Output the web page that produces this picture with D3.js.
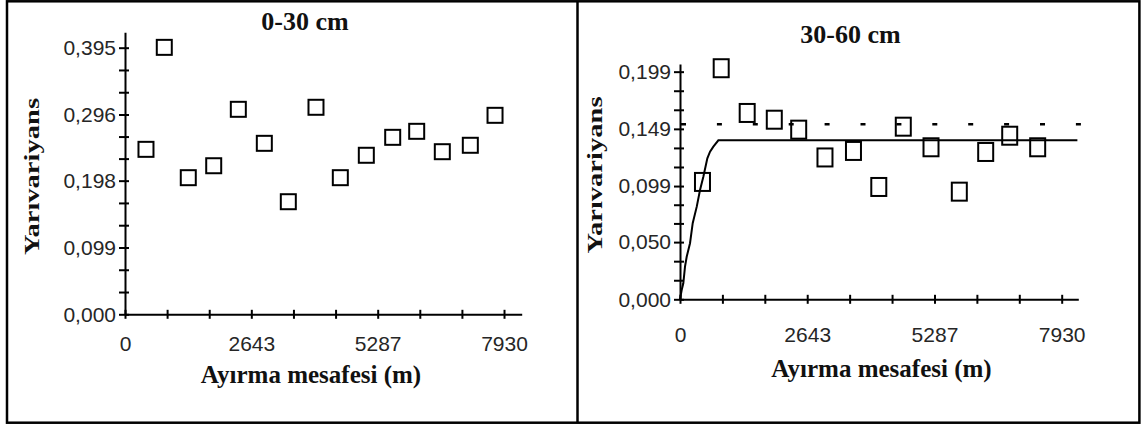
<!DOCTYPE html>
<html>
<head>
<meta charset="utf-8">
<script src="https://cdn.jsdelivr.net/npm/d3@7/dist/d3.min.js"></script>
<style>
body { margin: 0; background: #fff; }
svg { display: block; }
</style>
</head>
<body>
<svg id="chart" width="1146" height="425"></svg>
<script>
// 0-30 cm: experimental semivariogram points
let leftLag = [439, 822, 1324, 1856, 2371, 2915, 3417, 3996, 4505, 5049, 5601, 6103, 6639, 7225, 7742];
let leftGamma = [0.2444, 0.3955, 0.2024, 0.2201, 0.3037, 0.2533, 0.1668, 0.3067, 0.2024, 0.2356, 0.2622, 0.2711, 0.2409, 0.2504, 0.2948];
let leftYTicks = [0, 0.099, 0.198, 0.296, 0.395];

// 30-60 cm: experimental points, fitted model, sample variance
let rightLag = [467, 856, 1396, 1959, 2466, 3012, 3604, 4130, 4639, 5215, 5803, 6351, 6850, 7431];
let rightGamma = [0.1026, 0.2020, 0.1629, 0.1570, 0.1483, 0.1240, 0.1297, 0.0982, 0.1509, 0.1329, 0.0941, 0.1288, 0.1430, 0.1329];
let modelLag = [0, 35, 69, 104, 139, 208, 264, 348, 416, 485, 568, 624, 693, 797, 8256];
let modelGamma = [0, 0.0081, 0.0140, 0.0285, 0.0372, 0.0490, 0.0665, 0.0810, 0.0956, 0.1072, 0.1233, 0.1291, 0.1334, 0.1390, 0.1390];
let rightSill = 0.153;
let rightYTicks = [0, 0.050, 0.099, 0.149, 0.199];

let xTicks = [0, 2643, 5287, 7930];

const svg = d3.select('#chart');
const serif = '"Liberation Serif", "Times New Roman", serif';
const sans = '"Liberation Sans", Arial, sans-serif';

// outer frame and divider
svg.append('rect')
    .attr('x', 7).attr('y', 1.3)
    .attr('width', 1132.4).attr('height', 421.4)
    .attr('fill', 'none').attr('stroke', '#000').attr('stroke-width', 2.5);
svg.append('line')
    .attr('x1', 577.5).attr('x2', 577.5)
    .attr('y1', 1).attr('y2', 423)
    .attr('stroke', '#000').attr('stroke-width', 2.5);

function thirds(t) {
    let out = [];
    for (let i = 0; i < t.length; i++) {
        out.push(t[i]);
        if (i < t.length - 1) {
            let step = (t[i + 1] - t[i]) / 3;
            out.push(t[i] + step, t[i] + 2 * step);
        }
    }
    return out;
}

function drawPanel(p) {
    let g = svg.append('g');
    let x = d3.scaleLinear().domain([0, p.xMax]).range(p.xRange);
    let y = d3.scaleLinear().domain([0, p.yMax]).range(p.yRange);
    let fmt = d => d3.format('.3f')(d).replace('.', ',');

    let yAx = d3.axisLeft(y)
        .tickValues(thirds(p.yTicks))
        .tickSize(6)
        .tickSizeOuter(0)
        .tickPadding(3)
        .tickFormat(d => p.yTicks.includes(d) ? fmt(d) : '');
    let yG = g.append('g')
        .attr('transform', `translate(${p.xRange[0]},0)`)
        .call(yAx);
    yG.selectAll('.tick line').attr('x1', 4);

    let xAx = d3.axisBottom(x)
        .tickValues(thirds(xTicks))
        .tickSize(4.5)
        .tickSizeOuter(0)
        .tickFormat(d => xTicks.includes(d) ? d : '');
    let xG = g.append('g')
        .attr('transform', `translate(0,${p.yRange[0]})`)
        .call(xAx);
    xG.selectAll('.tick line').attr('y1', -4.5);
    // baseline of the tick labels below the axis
    xG.selectAll('.tick text').attr('dy', null).attr('y', p.xTextY);

    [yG, xG].forEach(a => {
        a.attr('font-family', sans).attr('font-size', 21);
        a.selectAll('path, line').attr('stroke', '#000').attr('stroke-width', 2);
        a.selectAll('text').attr('fill', '#262626');
    });

    if (p.sill !== undefined) {
        g.append('line')
            .attr('x1', x(0) + 1).attr('x2', p.xRange[1] + 3)
            .attr('y1', y(p.sill)).attr('y2', y(p.sill))
            .attr('stroke', '#000').attr('stroke-width', 2.5)
            .attr('stroke-dasharray', '5,30.9');
    }
    if (p.modelLag) {
        let line = d3.line()
            .x((d, i) => x(p.modelLag[i]))
            .y(d => y(d));
        g.append('path')
            .datum(p.modelGamma)
            .attr('d', line)
            .attr('fill', 'none')
            .attr('stroke', '#000')
            .attr('stroke-width', 2);
    }

    g.selectAll('rect.pt')
        .data(d3.zip(p.lag, p.gamma))
        .join('rect')
        .attr('class', 'pt')
        .attr('x', d => x(d[0]) - p.boxW / 2)
        .attr('y', d => y(d[1]) - p.boxH / 2)
        .attr('width', p.boxW)
        .attr('height', p.boxH)
        .attr('fill', 'none')
        .attr('stroke', '#000')
        .attr('stroke-width', 2);

    g.append('text')
        .attr('x', p.title[1]).attr('y', p.title[2])
        .attr('text-anchor', 'middle')
        .attr('font-family', serif).attr('font-weight', 'bold').attr('font-size', 26)
        .attr('fill', '#111')
        .text(p.title[0]);
    g.append('text')
        .attr('x', p.xLabel[0]).attr('y', p.xLabel[1])
        .attr('text-anchor', 'middle')
        .attr('font-family', serif).attr('font-weight', 'bold').attr('font-size', 25)
        .attr('fill', '#111')
        .text('Ayırma mesafesi (m)');
    g.append('text')
        .attr('transform', `translate(${p.yLabel[0]},${p.yLabel[1]}) rotate(-90)`)
        .attr('text-anchor', 'middle')
        .attr('font-family', serif).attr('font-weight', 'bold').attr('font-size', 21)
        .attr('textLength', 157).attr('lengthAdjust', 'spacingAndGlyphs')
        .attr('fill', '#111')
        .text('Yarıvariyans');
}

drawPanel({
    lag: leftLag, gamma: leftGamma, yTicks: leftYTicks,
    xMax: 8300, xRange: [125, 521.7],
    yMax: 0.4178, yRange: [314.3, 32.3],
    xTextY: 36.4, boxW: 15, boxH: 15,
    title: ['0-30 cm', 305, 30], xLabel: [311, 383], yLabel: [39, 176.5]
});

drawPanel({
    lag: rightLag, gamma: rightGamma, yTicks: rightYTicks,
    modelLag: modelLag, modelGamma: modelGamma, sill: rightSill,
    xMax: 8275, xRange: [680, 1078.3],
    yMax: 0.2057, yRange: [299.3, 64],
    xTextY: 42.4, boxW: 15, boxH: 18,
    title: ['30-60 cm', 850.5, 43.3], xLabel: [881.5, 377], yLabel: [602, 175]
});
</script>
</body>
</html>
